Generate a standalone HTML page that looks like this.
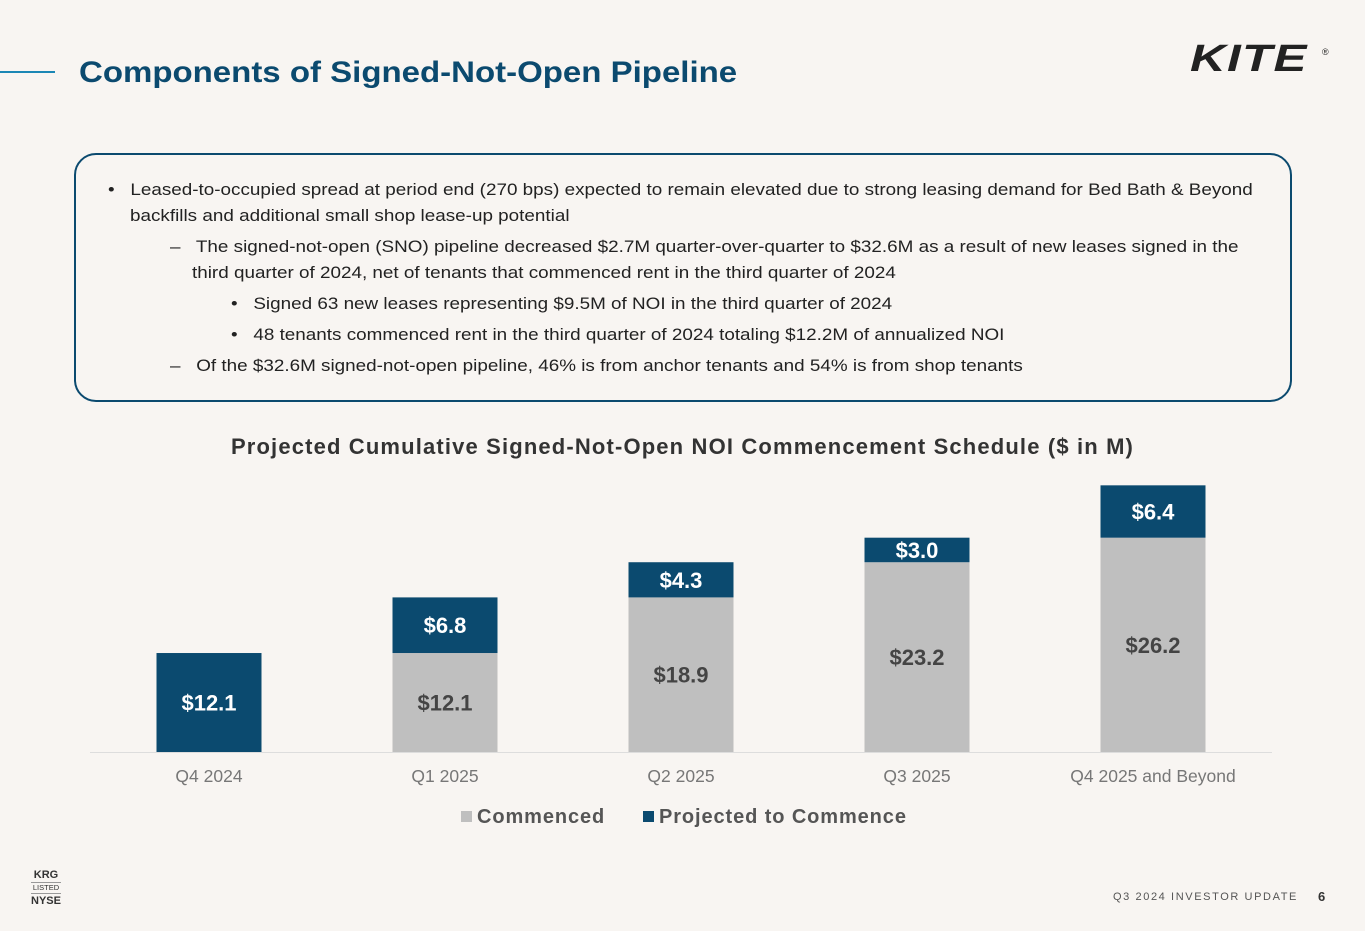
<!DOCTYPE html>
<html><head><meta charset="utf-8"><style>
body{margin:0;width:1365px;height:931px;background:#f8f5f2;font-family:"Liberation Sans",sans-serif;position:relative;overflow:hidden}
.abs{position:absolute}
.box{left:74px;top:153px;width:1214px;height:245px;border:2.5px solid #0b4a6f;border-radius:22px}
.line{font-size:17px;color:#222;position:absolute;white-space:nowrap;transform:scaleX(1.11);transform-origin:left}
</style></head><body>
<div class="abs" style="left:0;top:71px;width:55px;height:2px;background:#1b87b5"></div>
<div class="abs" style="left:79px;top:56px;font-size:30px;font-weight:bold;color:#0b4a6f;transform:scaleX(1.1);transform-origin:left;white-space:nowrap">Components of Signed-Not-Open Pipeline</div>
<div class="abs" style="left:1190px;top:38px;font-size:38px;font-weight:900;font-style:italic;color:#222;letter-spacing:1px;transform:scaleX(1.3);transform-origin:left">KITE</div>
<div class="abs" style="left:1322px;top:47px;font-size:9px;color:#222">®</div>
<div class="abs box"></div>
<div class="line" style="left:108px;top:180px">•&nbsp;&nbsp; Leased-to-occupied spread at period end (270 bps) expected to remain elevated due to strong leasing demand for Bed Bath &amp; Beyond</div>
<div class="line" style="left:130px;top:206px">backfills and additional small shop lease-up potential</div>
<div class="line" style="left:170px;top:237px">–&nbsp;&nbsp; The signed-not-open (SNO) pipeline decreased $2.7M quarter-over-quarter to $32.6M as a result of new leases signed in the</div>
<div class="line" style="left:192px;top:263px">third quarter of 2024, net of tenants that commenced rent in the third quarter of 2024</div>
<div class="line" style="left:231px;top:294px">•&nbsp;&nbsp; Signed 63 new leases representing $9.5M of NOI in the third quarter of 2024</div>
<div class="line" style="left:231px;top:325px">•&nbsp;&nbsp; 48 tenants commenced rent in the third quarter of 2024 totaling $12.2M of annualized NOI</div>
<div class="line" style="left:170px;top:356px">–&nbsp;&nbsp; Of the $32.6M signed-not-open pipeline, 46% is from anchor tenants and 54% is from shop tenants</div>
<div class="abs" style="left:0;width:1365px;text-align:center;top:434px;font-size:22px;font-weight:bold;color:#333;letter-spacing:1.15px;white-space:nowrap">Projected Cumulative Signed-Not-Open NOI Commencement Schedule ($ in M)</div>
<svg class="abs" style="left:0;top:0" width="1365" height="931" id="chart"></svg>
<div class="abs" style="left:31px;top:869px;width:30px;text-align:center;color:#333;font-weight:bold;font-size:11px;line-height:12px">KRG<div style="border-top:1px solid #999;border-bottom:1px solid #999;font-weight:normal;font-size:7.5px;line-height:10px;margin:1px 0">LISTED</div>NYSE</div>
<div class="abs" style="left:1113px;top:891px;font-size:11px;letter-spacing:1.6px;color:#555">Q3 2024 INVESTOR UPDATE</div>
<div class="abs" style="left:1318px;top:889px;font-size:13px;font-weight:bold;color:#333">6</div>
<script>
const categories=["Q4 2024","Q1 2025","Q2 2025","Q3 2025","Q4 2025 and Beyond"];
const commenced=[0,12.1,18.9,23.2,26.2];
const projected=[12.1,6.8,4.3,3.0,6.4];
const svg=document.getElementById('chart');
const NS='http://www.w3.org/2000/svg';
const base=752,scale=8.18,x0=209,step=236,bw=105;
const y=v=>base-v*scale, xc=i=>x0+i*step;
function mk(t,a){const e=document.createElementNS(NS,t);for(const k in a)e.setAttribute(k,a[k]);svg.appendChild(e);return e;}
const ax=mk('line',{x1:90,x2:1272,y1:base+0.5,y2:base+0.5,stroke:'#ddd'});


categories.forEach((c,i)=>{
  const cx=xc(i);
  if(commenced[i]>0){
    const r=mk('rect',{x:cx-bw/2,y:y(commenced[i]),width:bw,height:commenced[i]*scale,fill:'#bfbfbf'});
    
    
    const t=mk('text',{x:cx,y:(y(commenced[i])+base)/2+8,'text-anchor':'middle','font-size':22,'font-weight':'bold',fill:'#444','font-family':'Liberation Sans'});
    t.textContent='$'+commenced[i].toFixed(1);
    
    
  }
  const top=commenced[i]+projected[i];
  const r2=mk('rect',{x:cx-bw/2,y:y(top),width:bw,height:projected[i]*scale,fill:'#0b4a6f'});
  
  
  const t2=mk('text',{x:cx,y:(y(top)+y(commenced[i]))/2+8,'text-anchor':'middle','font-size':22,'font-weight':'bold',fill:'#fff','font-family':'Liberation Sans'});
  t2.textContent='$'+projected[i].toFixed(1);
  
  
  const tl=mk('text',{x:cx,y:782,'text-anchor':'middle','font-size':17.5,fill:'#777','font-family':'Liberation Sans'});
  tl.textContent=c;
  
  
});
const legend=[["Commenced","#bfbfbf",461],["Projected to Commence","#0b4a6f",643]];
legend.forEach(l=>{
  const s=mk('rect',{x:l[2],y:811,width:11,height:11,fill:l[1]});
  
  
  const t=mk('text',{x:l[2]+16,y:823,'font-size':20,'font-weight':'bold',fill:'#555','font-family':'Liberation Sans','letter-spacing':'0.9'});
  t.textContent=l[0];
  
  
});
</script>
</body></html>
